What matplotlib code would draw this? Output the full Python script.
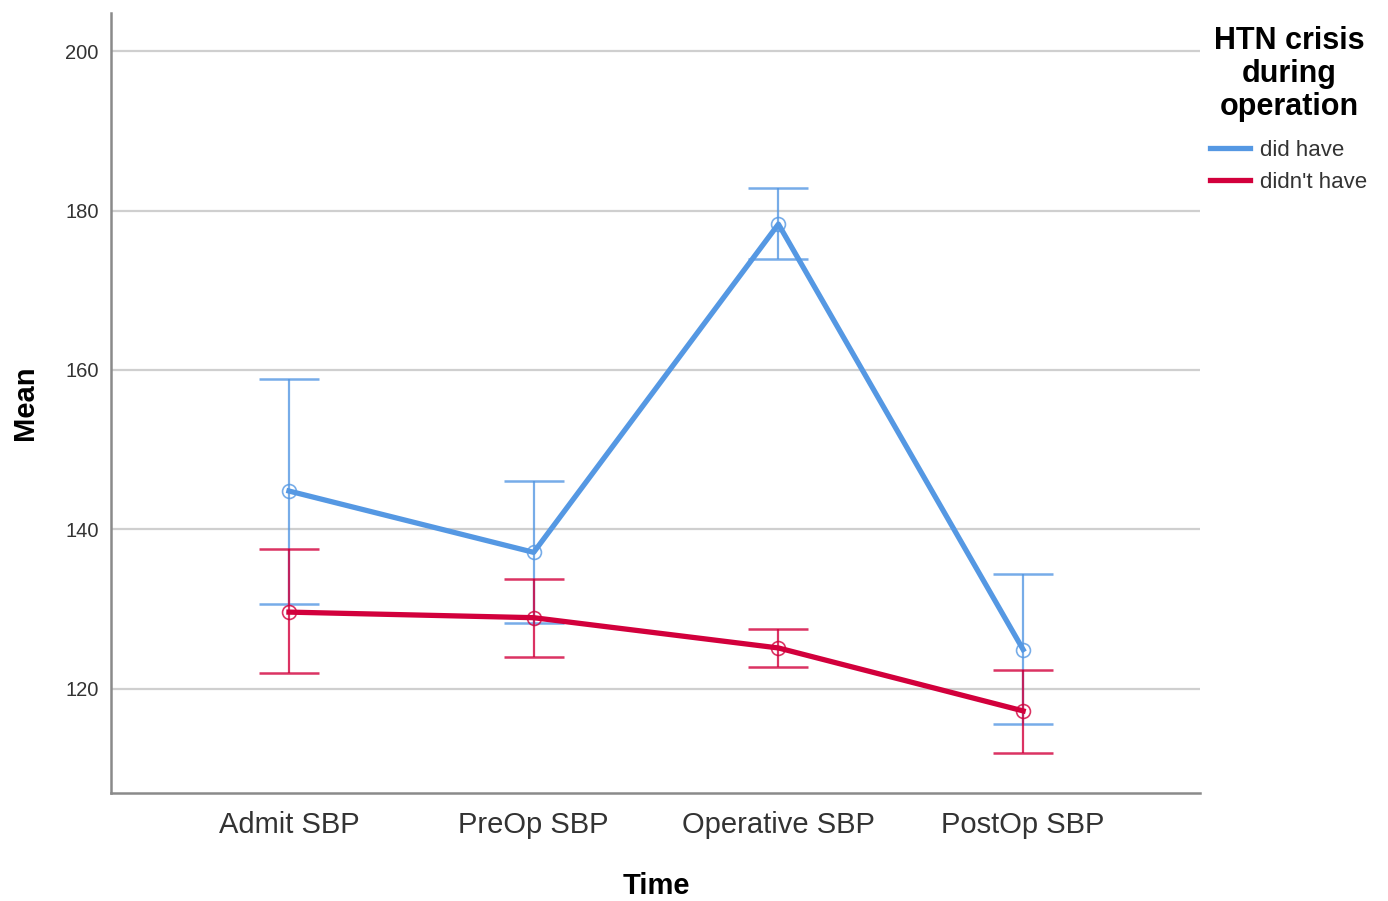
import matplotlib
matplotlib.use("Agg")
import matplotlib.pyplot as plt
from matplotlib.lines import Line2D
import numpy as np

# values
times = ["Admit SBP", "PreOp SBP", "Operative SBP", "PostOp SBP"]
did_mean = [144.8, 137.1, 178.3, 124.9]
did_low = [130.6, 128.2, 173.9, 115.5]
did_high = [158.9, 146.0, 182.8, 134.4]
didnt_mean = [129.6, 128.9, 125.1, 117.2]
didnt_low = [121.9, 124.0, 122.7, 111.9]
didnt_high = [137.5, 133.8, 127.5, 122.3]
y_ticks = [120, 140, 160, 180, 200]

blue = "#5598e3"
red = "#d2003c"

plt.rcParams["font.family"] = ["Liberation Sans", "DejaVu Sans"]

fig = plt.figure(figsize=(13.88, 9.01), dpi=100)
ax = fig.add_axes([0.08, 0.1199, 0.7846, 0.8657])

x = np.arange(len(times))

def draw_series(means, lows, highs, color, label):
    means = np.array(means)
    err = [means - np.array(lows), np.array(highs) - means]
    ax.errorbar(x, means, yerr=err, fmt="none", ecolor=color, alpha=0.8,
                elinewidth=1.6, capsize=21.5, capthick=1.8, zorder=3)
    ax.plot(x, means, color=color, lw=3.8, zorder=4, label=label)
    ax.plot(x, means, ls="none", marker="o", markersize=10,
            markerfacecolor="none", markeredgecolor=color,
            markeredgewidth=1.2, alpha=0.8, zorder=5)

draw_series(did_mean, did_low, did_high, blue, "did have")
draw_series(didnt_mean, didnt_low, didnt_high, red, "didn't have")

ax.set_xlim(-0.727, 3.723)
ax.set_ylim(106.9, 204.8)
ax.set_xticks(x)
ax.set_xticklabels(times, fontsize=21, color="#333333")
ax.set_yticks(y_ticks)
ax.set_yticklabels([str(v) for v in y_ticks], fontsize=14.5, color="#333333")
ax.tick_params(axis="both", length=0)
ax.tick_params(axis="x", pad=13)
ax.tick_params(axis="y", pad=9)

ax.grid(axis="y", color="#cfcfcf", lw=1.6, zorder=0)
ax.set_axisbelow(True)
for side in ["top", "right"]:
    ax.spines[side].set_visible(False)
for side in ["left", "bottom"]:
    ax.spines[side].set_color("#8a8a8a")
    ax.spines[side].set_linewidth(1.8)

fig.text(0.4726, 0.0166, "Time", fontsize=21, fontweight="bold",
         ha="center", va="center")
fig.text(0.018, 0.553, "Mean", fontsize=21, fontweight="bold",
         rotation=90, ha="center", va="center")

# legend title drawn as centred text, entries as a legend below it
fig.text(0.9287, 1 - 74 / 901, "HTN crisis\nduring\noperation",
         fontsize=22, fontweight="bold", ha="center", va="center",
         multialignment="center", linespacing=1.12)
handles = [Line2D([0], [0], color=blue, lw=3.8),
           Line2D([0], [0], color=red, lw=3.8)]
leg = fig.legend(handles, ["did have", "didn't have"],
                 loc="upper left", bbox_to_anchor=(0.857, 0.867),
                 frameon=False, fontsize=16, handlelength=1.8,
                 handletextpad=0.45, labelspacing=0.5)
for t in leg.get_texts():
    t.set_color("#333333")

fig.savefig("out.png", dpi=100)
